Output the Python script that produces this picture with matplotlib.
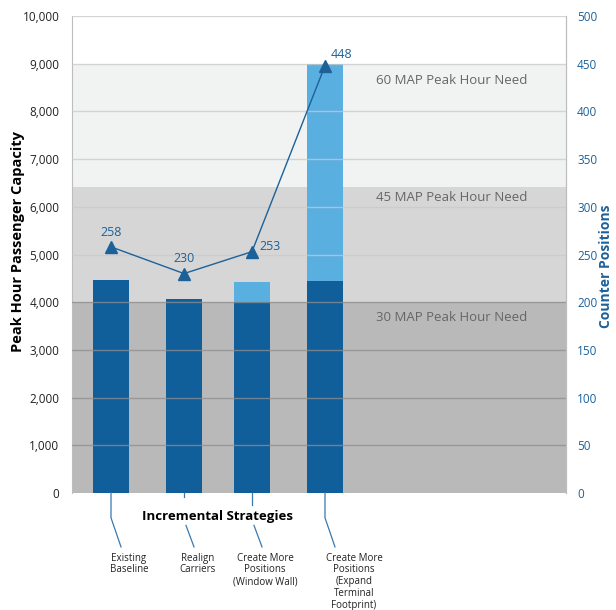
import matplotlib.pyplot as plt

plt.rcParams['font.family'] = ['Open Sans', 'DejaVu Sans']

# data
categories = ["Existing\nBaseline", "Realign\nCarriers", "Create More\nPositions\n(Window Wall)",
              "Create More\nPositions\n(Expand\nTerminal\nFootprint)"]
capacity_base = [4470, 4070, 4010, 4450]
capacity_added = [0, 0, 420, 4550]
counter_positions = [258, 230, 253, 448]
need_levels = [4000, 6420, 9000]
need_labels = ["30 MAP Peak Hour Need", "45 MAP Peak Hour Need", "60 MAP Peak Hour Need"]

dark_blue = "#115f9a"
light_blue = "#5aafe1"
line_blue = "#1d6199"
band_colors = ["#b9b9b9", "#d6d6d6", "#f1f2f2"]

fig = plt.figure(figsize=(6.16, 6.10), dpi=100)
ax = fig.add_axes([72/616, 1-493/610, 494/616, 477/610])

# x positions (pixel-like units inside the plot area)
xpos = [39, 112, 180, 253]
ax.set_xlim(0, 494)
ax.set_ylim(0, 10000)

# background bands
lo = 0
for lev, c in zip(need_levels, band_colors):
    ax.axhspan(lo, lev, color=c, zorder=0, lw=0)
    lo = lev

# bars
ax.bar(xpos, capacity_base, width=36, color=dark_blue, zorder=2)
ax.bar(xpos, capacity_added, bottom=capacity_base, width=36, color=light_blue, zorder=2)

# grid lines
for v in range(1000, 10001, 1000):
    c = "#8e8e8e" if v <= 4000 else "#c9c9c9"
    ax.axhline(v, color=c, lw=1.0, zorder=3, alpha=0.75)

# band labels
ypos_lbl = [3680, 6200, 8650]
for y, t in zip(ypos_lbl, need_labels):
    ax.text(380, y, t, color="#666666", fontsize=9.5, va="center", ha="center", zorder=5)

for s in ["top", "bottom"]:
    ax.spines[s].set_visible(False)
ax.spines["left"].set_color("#bdbdbd")
ax.spines["right"].set_color("#bdbdbd")
ax.set_xticks([])
ax.set_yticks(range(0, 10001, 1000))
ax.set_yticklabels([f"{v:,}" for v in range(0, 10001, 1000)])
ax.tick_params(axis="y", length=0, labelsize=8.5, pad=9, colors="#222222")
ax.set_ylabel("Peak Hour Passenger Capacity", fontsize=10.5, fontweight="bold")
ax.yaxis.set_label_coords(-0.095, 0.528)

# right axis
ax2 = ax.twinx()
ax2.set_ylim(0, 500)
ax2.set_xlim(0, 494)
for s in ["top", "bottom", "left"]:
    ax2.spines[s].set_visible(False)
ax2.spines["right"].set_color("#bdbdbd")
ax2.set_yticks(range(0, 501, 50))
ax2.tick_params(axis="y", length=0, labelsize=8.5, pad=8, colors=line_blue)
ax2.set_ylabel("Counter Positions", fontsize=10, fontweight="bold", color=line_blue, rotation=90)
ax2.yaxis.set_label_coords(1.066, 0.476)

ax2.plot(xpos, counter_positions, color=line_blue, lw=1, marker="^", markersize=9, zorder=6)
offsets = [(0, 6, "center", "bottom"), (0, 6, "center", "bottom"),
           (5, 4, "left", "center"), (4, 3, "left", "bottom")]
for x, v, (dx, dy, ha, va) in zip(xpos, counter_positions, offsets):
    ax2.annotate(str(v), (x, v), xytext=(dx, dy), textcoords="offset points",
                 ha=ha, va=va, color=line_blue, fontsize=9)

# x label and leader lines
tr = ax.get_xaxis_transform()
ax.text(145, -0.05, "Incremental Strategies", transform=tr, ha="center", va="center",
        fontsize=9.5, fontweight="bold", color="black")
label_dx = [18, 14, 13, 29]
leader_break = [(-0.052, None), (-0.009, -0.068), (-0.025, -0.068), (-0.052, None)]
for x, dx, (b1, b2), lab in zip(xpos, label_dx, leader_break, categories):
    if b2 is None:
        ax.plot([x, x, x + 10], [0, b1, -0.113], transform=tr, color="#3a78b0", lw=0.9, clip_on=False)
    else:
        ax.plot([x, x], [0, b1], transform=tr, color="#3a78b0", lw=0.9, clip_on=False)
        ax.plot([x + 2, x + 10], [b2, -0.113], transform=tr, color="#3a78b0", lw=0.9, clip_on=False)
    ax.text(x + dx, -0.125, lab, transform=tr, ha="center", va="top", fontsize=7,
            color="#222222", linespacing=1.1)

plt.savefig("out.png", dpi=100)
